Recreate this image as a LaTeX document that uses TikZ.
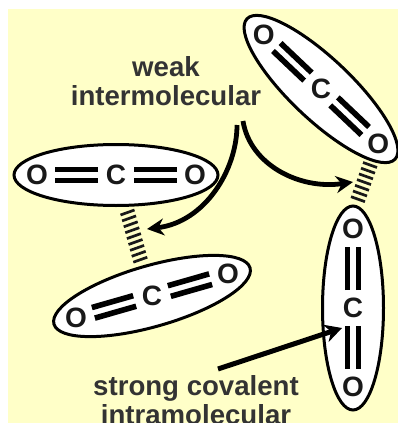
\documentclass[tikz,border=0pt]{standalone}
\usepackage{fontspec}
\setmainfont{Liberation Sans}
\usetikzlibrary{arrows.meta,shapes.geometric}
\definecolor{bgy}{HTML}{FFFFC8}
\definecolor{lab}{HTML}{333333}
\tikzset{
  x=1pt,y=-1pt,
  molecule/.style={draw=black,fill=white,line width=3pt,ellipse,minimum width=204pt,minimum height=61pt,inner sep=0pt},
  atom/.style={font=\fontsize{28}{28}\selectfont\bfseries,text=black!90,inner sep=0pt},
  bond/.style={line width=5.6pt,black},
  label/.style={font=\fontsize{27.6}{29}\selectfont\bfseries,text=lab,align=center,inner sep=0pt},
  hb/.style={line width=2.7pt,black!90},
  curved/.style={line width=4.8pt,black,-{Stealth[length=17pt,width=17pt]}}
}
\newcommand{\co}[4]{% center x,y angle name
  \begin{scope}[shift={(#1,#2)},rotate=#3]
    \node[molecule,rotate=#3] (#4) at (0,0) {};
    \node[atom] (#4a) at (-79,0) {O};
    \node[atom] (#4b) at (79,0) {O};
    \node[atom] (#4c) at (0,0) {C};
    \foreach \s in {-1,1} \foreach \d in {-5.5,5.5}
      \draw[bond] (\s*18,\d) -- (\s*61,\d);
  \end{scope}}
\begin{document}
\begin{tikzpicture}
\useasboundingbox (0,0) rectangle (398,423);
\fill[bgy] (8,9) rectangle (398,423);
\co{321}{89}{-43.5}{ma}
\co{116}{175}{0}{mb}
\co{152}{296}{16}{mc}
\co{353}{308}{90}{md}
\node[label] (lw) at (166,81) {weak\\intermolecular};
\node[label] (ls) at (196,400) {strong covalent\\intramolecular};
\coordinate (s1) at (237,125);
\coordinate (e1) at (147,229);
\coordinate (s2) at (243,121);
\coordinate (e2) at (353,182);
\coordinate (s3) at (218,369);
\coordinate (e3) at (342,328);
\foreach \i in {0,...,6}{
  \pgfmathsetmacro{\px}{370-\i*2}
  \pgfmathsetmacro{\py}{165+\i*5.7}
  \draw[hb] (\px-7,\py-2.5) -- (\px+7,\py+2.5);
}
\foreach \i in {0,...,8}{
  \pgfmathsetmacro{\px}{127.5+\i*1.6}
  \pgfmathsetmacro{\py}{212.5+\i*5.9}
  \draw[hb] (\px-7,\py+2.5) -- (\px+7,\py-2.5);
}
\draw[curved] (s1) .. controls (237,170) and (205,222) .. (e1);
\draw[curved] (s2) .. controls (250,165) and (300,190) .. (e2);
\draw[line width=5pt,black,-{Stealth[length=17pt,width=18pt]}] (s3) -- (e3);
\end{tikzpicture}
\end{document}
